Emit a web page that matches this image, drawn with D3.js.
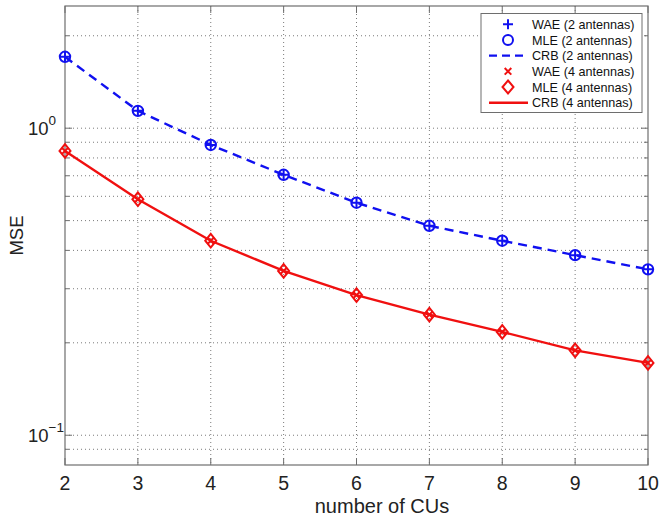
<!DOCTYPE html>
<html>
<head>
<meta charset="utf-8">
<script src="https://cdn.jsdelivr.net/npm/d3@7"></script>
<style>
  html, body { margin: 0; padding: 0; background: #fff; }
  svg { display: block; font-family: "Liberation Sans", Arial, sans-serif; }
</style>
</head>
<body>
<svg id="chart" width="665" height="518"></svg>
<script>
// Number of CUs on the x axis
const numCUs = [2, 3, 4, 5, 6, 7, 8, 9, 10];

// Two receive antennas
const wae2 = [1.708, 1.139, 0.882, 0.705, 0.572, 0.481, 0.430, 0.386, 0.347];
const mle2 = [1.708, 1.139, 0.882, 0.705, 0.572, 0.481, 0.430, 0.386, 0.347];
const crb2 = [1.708, 1.139, 0.882, 0.705, 0.572, 0.481, 0.430, 0.386, 0.347];

// Four receive antennas
const wae4 = [0.843, 0.587, 0.430, 0.343, 0.286, 0.247, 0.217, 0.189, 0.172];
const mle4 = [0.843, 0.587, 0.430, 0.343, 0.286, 0.247, 0.217, 0.189, 0.172];
const crb4 = [0.843, 0.587, 0.430, 0.343, 0.286, 0.247, 0.217, 0.189, 0.172];

// Axis ticks
const xTicks = [2, 3, 4, 5, 6, 7, 8, 9, 10];
const yMajor = [0.1, 1];
const yMinor = [0.09, 0.2, 0.3, 0.4, 0.5, 0.6, 0.7, 0.8, 0.9, 2];

const legendLabels = [
  "WAE (2 antennas)", "MLE (2 antennas)", "CRB (2 antennas)",
  "WAE (4 antennas)", "MLE (4 antennas)", "CRB (4 antennas)"
];

const BLUE = "#1010f0";
const RED = "#f01010";
const AXIS = "#6e6e6e";
const GRID = "#7a7a7a";

const svg = d3.select("#chart");
const plotL = 65, plotR = 648, plotT = 6, plotB = 465;

const x = d3.scaleLinear().domain([2, 10]).range([plotL, plotR]);
const y = d3.scaleLog().domain([0.08, 2.5]).range([plotB, plotT]);

// Dotted grid
const grid = svg.append("g").attr("stroke", GRID).attr("stroke-width", 1)
  .attr("stroke-dasharray", "1,3").attr("fill", "none");
xTicks.slice(1, -1).forEach(v => {
  grid.append("line").attr("x1", x(v)).attr("x2", x(v)).attr("y1", plotT).attr("y2", plotB);
});
yMajor.concat(yMinor).forEach(v => {
  grid.append("line").attr("x1", plotL).attr("x2", plotR).attr("y1", y(v)).attr("y2", y(v));
});

// Inward tick marks on all four sides
const ticks = svg.append("g").attr("stroke", AXIS).attr("stroke-width", 1);
xTicks.forEach(v => {
  ticks.append("line").attr("x1", x(v)).attr("x2", x(v)).attr("y1", plotB).attr("y2", plotB - 7);
  ticks.append("line").attr("x1", x(v)).attr("x2", x(v)).attr("y1", plotT).attr("y2", plotT + 7);
});
yMajor.forEach(v => {
  ticks.append("line").attr("x1", plotL).attr("x2", plotL + 7).attr("y1", y(v)).attr("y2", y(v));
  ticks.append("line").attr("x1", plotR).attr("x2", plotR - 7).attr("y1", y(v)).attr("y2", y(v));
});
yMinor.forEach(v => {
  ticks.append("line").attr("x1", plotL).attr("x2", plotL + 4).attr("y1", y(v)).attr("y2", y(v));
  ticks.append("line").attr("x1", plotR).attr("x2", plotR - 4).attr("y1", y(v)).attr("y2", y(v));
});

// Frame
svg.append("rect").attr("x", plotL).attr("y", plotT)
  .attr("width", plotR - plotL).attr("height", plotB - plotT)
  .attr("fill", "none").attr("stroke", AXIS).attr("stroke-width", 1.2);

// X tick labels
svg.append("g").selectAll("text").data(xTicks).join("text")
  .attr("x", d => x(d)).attr("y", 490)
  .attr("text-anchor", "middle").attr("font-size", 19.5).attr("fill", "#222")
  .text(d => d);

// Y tick labels as powers of ten
const yLab = svg.append("g").attr("fill", "#222");
yMajor.forEach(v => {
  const exp = Math.round(Math.log10(v));
  const t = yLab.append("text").attr("x", 28).attr("y", y(v) + 7).attr("font-size", 18.5);
  t.append("tspan").text("10");
  t.append("tspan").attr("dy", -10).attr("font-size", 13.5).text(exp < 0 ? "\u2212" + (-exp) : exp);
});

// Axis titles
svg.append("text").attr("x", 382).attr("y", 513).attr("text-anchor", "middle")
  .attr("font-size", 20).attr("fill", "#222").text("number of CUs");
svg.append("text").attr("transform", "translate(23,235.5) rotate(-90)")
  .attr("text-anchor", "middle").attr("font-size", 18.5).attr("fill", "#222").text("MSE");

// CRB curves
const line = d3.line().x(d => x(d[0])).y(d => y(d[1]));
svg.append("path").datum(numCUs.map((c, i) => [c, crb2[i]])).attr("d", line)
  .attr("fill", "none").attr("stroke", BLUE).attr("stroke-width", 2.4)
  .attr("stroke-dasharray", "9,6");
svg.append("path").datum(numCUs.map((c, i) => [c, crb4[i]])).attr("d", line)
  .attr("fill", "none").attr("stroke", RED).attr("stroke-width", 2.4);

// Marker shapes
function plusMark(g, cx, cy, s) {
  g.append("path").attr("d", `M${cx - s},${cy}H${cx + s}M${cx},${cy - s}V${cy + s}`)
    .attr("stroke", BLUE).attr("stroke-width", 2).attr("fill", "none");
}
function circleMark(g, cx, cy, r) {
  g.append("circle").attr("cx", cx).attr("cy", cy).attr("r", r)
    .attr("stroke", BLUE).attr("stroke-width", 2).attr("fill", "none");
}
function crossMark(g, cx, cy, s) {
  g.append("path").attr("d", `M${cx - s},${cy - s}L${cx + s},${cy + s}M${cx - s},${cy + s}L${cx + s},${cy - s}`)
    .attr("stroke", RED).attr("stroke-width", 2).attr("fill", "none");
}
function diamondMark(g, cx, cy, w, h) {
  g.append("path").attr("d", `M${cx},${cy - h}L${cx + w},${cy}L${cx},${cy + h}L${cx - w},${cy}Z`)
    .attr("stroke", RED).attr("stroke-width", 2).attr("fill", "none");
}

const marks = svg.append("g");
numCUs.forEach((c, i) => {
  circleMark(marks, x(c), y(mle2[i]), 5.2);
  plusMark(marks, x(c), y(wae2[i]), 5.2);
  diamondMark(marks, x(c), y(mle4[i]), 5.5, 6.8);
  crossMark(marks, x(c), y(wae4[i]), 3.2);
});

// Legend
const lg = svg.append("g");
lg.append("rect").attr("x", 481).attr("y", 13.5).attr("width", 161).attr("height", 99)
  .attr("fill", "#fff").attr("stroke", AXIS).attr("stroke-width", 1);
const rowY = i => 24.2 + i * 15.7;
lg.selectAll("text").data(legendLabels).join("text")
  .attr("x", 532).attr("y", (d, i) => rowY(i) + 4.6)
  .attr("font-size", 12.6).attr("fill", "#111").text(d => d);
plusMark(lg, 508, rowY(0), 5);
circleMark(lg, 508, rowY(1), 5);
lg.append("line").attr("x1", 489).attr("x2", 528).attr("y1", rowY(2)).attr("y2", rowY(2))
  .attr("stroke", BLUE).attr("stroke-width", 2.4).attr("stroke-dasharray", "8,5");
crossMark(lg, 508, rowY(3), 3.3);
diamondMark(lg, 508, rowY(4), 5.5, 6.5);
lg.append("line").attr("x1", 489).attr("x2", 528).attr("y1", rowY(5)).attr("y2", rowY(5))
  .attr("stroke", RED).attr("stroke-width", 2.4);
</script>
</body>
</html>
